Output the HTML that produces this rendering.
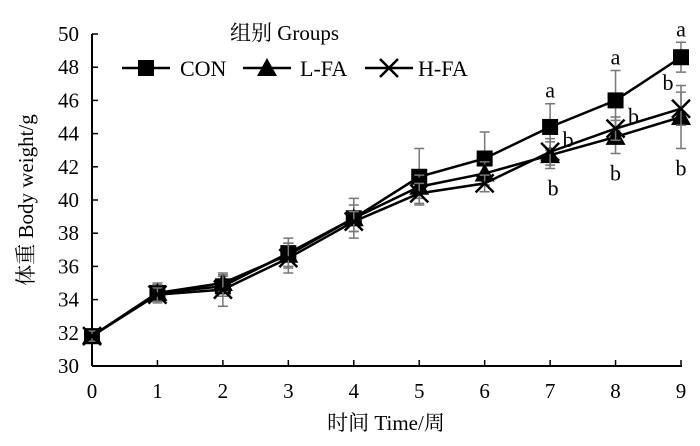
<!DOCTYPE html>
<html><head><meta charset="utf-8"><style>
body{margin:0;background:#fff}
svg text{font-family:"Liberation Serif","Noto Serif CJK SC","Noto Sans CJK SC",serif;fill:#000}
</style></head><body>
<svg width="700" height="441" xmlns="http://www.w3.org/2000/svg" id="chart">
<g id="axes"></g>
<g id="series"></g>
<g id="legend"></g>
</svg>
<script>
const weeks=[0,1,2,3,4,5,6,7,8,9];
const yTicks=[30,32,34,36,38,40,42,44,46,48,50];
const conVals=[31.8,34.4,34.8,36.8,38.9,41.4,42.5,44.4,46.0,48.6];
const conErr=[0.3,0.6,0.6,0.9,1.2,1.7,1.6,1.4,1.8,0.9];
const lfaVals=[31.8,34.4,35.0,36.7,38.9,40.8,41.6,42.7,43.8,45.0];
const lfaErr=[0.3,0.5,0.5,0.7,0.8,0.7,0.7,0.8,1.0,1.9];
const hfaVals=[31.8,34.3,34.6,36.5,38.7,40.4,41.0,42.9,44.3,45.5];
const hfaErr=[0.3,0.4,1.0,0.9,0.6,0.6,0.5,0.8,0.7,1.0];
const sigWeeks=[7,8,9];
const conSig=["a","a","a"];
const lfaSig=["b","b","b"];
const hfaSig=["b","b","b"];
const NS="http://www.w3.org/2000/svg";
const X=v=>92+v*(681-92)/9;
const Y=v=>366-(v-30)*16.6;
function el(tag,attrs,parent){const e=document.createElementNS(NS,tag);for(const k in attrs)e.setAttribute(k,attrs[k]);parent.appendChild(e);return e;}
const axes=document.getElementById('axes');
let a=el('line',{x1:92,y1:Y(50),x2:92,y2:366,stroke:'#000','stroke-width':2},axes);


a=el('line',{x1:92,y1:366,x2:682,y2:366,stroke:'#000','stroke-width':2},axes);


yTicks.forEach(t=>{
 let l=el('line',{x1:92,y1:Y(t),x2:98,y2:Y(t),stroke:'#000','stroke-width':1.5},axes);
 
 
 let tx=el('text',{x:79,y:Y(t)+7,'text-anchor':'end','font-size':21},axes);tx.textContent=t;
 
 
});
weeks.forEach(w=>{
 let l=el('line',{x1:X(w),y1:366,x2:X(w),y2:360,stroke:'#000','stroke-width':1.5},axes);
 
 
 let tx=el('text',{x:X(w),y:398,'text-anchor':'middle','font-size':21},axes);tx.textContent=w;
 
 
});
let xt=el('text',{x:386,y:430,'text-anchor':'middle','font-size':21},axes);xt.textContent='时间  Time/周';


let yt=el('text',{x:0,y:0,'text-anchor':'middle','font-size':21,transform:'translate(33,200) rotate(-90)'},axes);yt.textContent='体重  Body weight/g';


function marker(kind,x,y,g){
 let m;
 if(kind==='sq')m=el('rect',{x:x-8,y:y-8,width:16,height:16,fill:'#000'},g);
 else if(kind==='tri')m=el('polygon',{points:`${x},${y-10} ${x+10},${y+8} ${x-10},${y+8}`,fill:'#000'},g);
 else m=el('path',{d:`M${x-9},${y-9}L${x+9},${y+9}M${x+9},${y-9}L${x-9},${y+9}`,stroke:'#000','stroke-width':2.5},g);
 return m;
}
const ser=document.getElementById('series');
const defs=[['con',conVals,conErr,'sq'],['l-fa',lfaVals,lfaErr,'tri'],['h-fa',hfaVals,hfaErr,'x']];
defs.forEach(([nm,vals,err,kind])=>{
 const g=el('g',{},ser);
 
 
 vals.forEach((v,i)=>{
  const x=X(weeks[i]);
  const e=el('path',{d:`M${x},${Y(v+err[i])}V${Y(v-err[i])}M${x-5},${Y(v+err[i])}H${x+5}M${x-5},${Y(v-err[i])}H${x+5}`,stroke:'#777','stroke-width':1.5,fill:'none'},g);
  
  
 });
 const p=el('polyline',{points:vals.map((v,i)=>X(weeks[i])+','+Y(v)).join(' '),fill:'none',stroke:'#000','stroke-width':2.5},g);
 
 
 vals.forEach((v,i)=>{
  const m=marker(kind,X(weeks[i]),Y(v),g);
  
  
 });
});
sigWeeks.forEach((w,j)=>{
 const i=weeks.indexOf(w);
 let t=el('text',{x:X(w),y:Y(conVals[i]+conErr[i])-6,'text-anchor':'middle','font-size':22},ser);t.textContent=conSig[j];
 
 
 t=el('text',{x:X(w)-(w===9?13:-18),y:w===9?Y(hfaVals[i]+hfaErr[i])-2:Y(hfaVals[i])-5,'text-anchor':'middle','font-size':22},ser);t.textContent=hfaSig[j];
 
 
 t=el('text',{x:X(w)+(w===7?3:0),y:Y(lfaVals[i]-lfaErr[i])+27,'text-anchor':'middle','font-size':22},ser);t.textContent=lfaSig[j];
 
 
});
const lg=document.getElementById('legend');
let tt=el('text',{x:230,y:40,'font-size':21},lg);tt.textContent='组别 Groups';


[['CON','sq',122,180],['L-FA','tri',243,300],['H-FA','x',365,418]].forEach(([lab,kind,x0,tx])=>{
 const g=el('g',{},lg);
 
 
 el('line',{x1:x0,y1:68,x2:x0+48,y2:68,stroke:'#000','stroke-width':2.5},g);
 marker(kind,x0+24,68,g);
 const t=el('text',{x:tx,y:76,'font-size':22},g);t.textContent=lab;
});
</script>
</body></html>
